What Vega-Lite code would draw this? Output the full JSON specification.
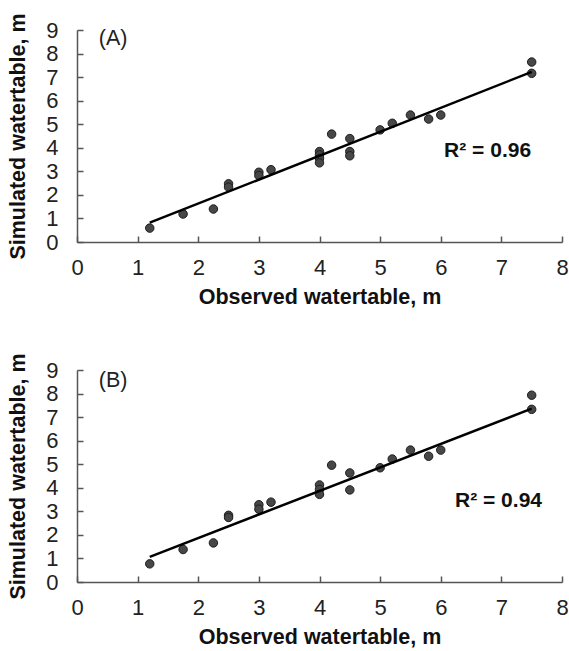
{
  "$schema": "https://vega.github.io/schema/vega-lite/v6.json",
  "background": "white",
  "padding": {"left": 7, "top": 12, "right": 0, "bottom": 0},
  "config": {
    "font": "Liberation Sans",
    "view": {"stroke": null},
    "axis": {
      "grid": false,
      "domainColor": "#555555",
      "domainWidth": 1.5,
      "tickColor": "#555555",
      "tickWidth": 1.5,
      "tickSize": -6,
      "tickCount": 20,
      "labelFont": "Liberation Sans",
      "labelFontSize": 22,
      "labelColor": "#222222",
      "labelFlush": false,
      "labelOverlap": false,
      "format": "d",
      "titleFont": "Liberation Sans",
      "titleFontSize": 21.5,
      "titleFontWeight": "bold",
      "titleColor": "#111111"
    },
    "axisX": {"labelPadding": 21, "titlePadding": 8},
    "axisY": {"labelPadding": 25, "titlePadding": 16},
    "concat": {"spacing": 44}
  },
  "datasets": {
    "pts": [
      {"panel": "A", "obs": 1.2, "sim": 0.59},
      {"panel": "A", "obs": 1.75, "sim": 1.19},
      {"panel": "A", "obs": 2.25, "sim": 1.4},
      {"panel": "A", "obs": 2.5, "sim": 2.47},
      {"panel": "A", "obs": 2.5, "sim": 2.33},
      {"panel": "A", "obs": 3.0, "sim": 2.96},
      {"panel": "A", "obs": 3.0, "sim": 2.82},
      {"panel": "A", "obs": 3.2, "sim": 3.07},
      {"panel": "A", "obs": 4.0, "sim": 3.84},
      {"panel": "A", "obs": 4.0, "sim": 3.7},
      {"panel": "A", "obs": 4.0, "sim": 3.55},
      {"panel": "A", "obs": 4.0, "sim": 3.36},
      {"panel": "A", "obs": 4.2, "sim": 4.58},
      {"panel": "A", "obs": 4.5, "sim": 4.39},
      {"panel": "A", "obs": 4.5, "sim": 3.84},
      {"panel": "A", "obs": 4.5, "sim": 3.66},
      {"panel": "A", "obs": 5.0, "sim": 4.76},
      {"panel": "A", "obs": 5.2, "sim": 5.04},
      {"panel": "A", "obs": 5.5, "sim": 5.39},
      {"panel": "A", "obs": 5.8, "sim": 5.22},
      {"panel": "A", "obs": 6.0, "sim": 5.39},
      {"panel": "A", "obs": 7.5, "sim": 7.64},
      {"panel": "A", "obs": 7.5, "sim": 7.16},
      {"panel": "B", "obs": 1.2, "sim": 0.77},
      {"panel": "B", "obs": 1.75, "sim": 1.38},
      {"panel": "B", "obs": 2.25, "sim": 1.66},
      {"panel": "B", "obs": 2.5, "sim": 2.83},
      {"panel": "B", "obs": 2.5, "sim": 2.74},
      {"panel": "B", "obs": 3.0, "sim": 3.28},
      {"panel": "B", "obs": 3.0, "sim": 3.09},
      {"panel": "B", "obs": 3.2, "sim": 3.39},
      {"panel": "B", "obs": 4.0, "sim": 4.12},
      {"panel": "B", "obs": 4.0, "sim": 3.93},
      {"panel": "B", "obs": 4.0, "sim": 3.72},
      {"panel": "B", "obs": 4.2, "sim": 4.96},
      {"panel": "B", "obs": 4.5, "sim": 4.63},
      {"panel": "B", "obs": 4.5, "sim": 3.91},
      {"panel": "B", "obs": 5.0, "sim": 4.85},
      {"panel": "B", "obs": 5.2, "sim": 5.22},
      {"panel": "B", "obs": 5.5, "sim": 5.6},
      {"panel": "B", "obs": 5.8, "sim": 5.34},
      {"panel": "B", "obs": 6.0, "sim": 5.6},
      {"panel": "B", "obs": 7.5, "sim": 7.93},
      {"panel": "B", "obs": 7.5, "sim": 7.33}
    ],
    "fit": [
      {"panel": "A", "obs": 1.2, "sim": 0.82},
      {"panel": "A", "obs": 7.5, "sim": 7.22},
      {"panel": "B", "obs": 1.2, "sim": 1.07},
      {"panel": "B", "obs": 7.5, "sim": 7.36}
    ],
    "tags": [
      {"panel": "A", "x": 0.36, "y": 8.6, "label": "(A)"},
      {"panel": "B", "x": 0.36, "y": 8.55, "label": "(B)"}
    ],
    "r2": [
      {"panel": "A", "x": 7.49, "y": 3.85, "label": "R² = 0.96"},
      {"panel": "B", "x": 7.67, "y": 3.42, "label": "R² = 0.94"}
    ]
  },
  "vconcat": [
    {
      "width": 485,
      "height": 212,
      "layer": [
        {
          "data": {"name": "pts"},
          "transform": [{"filter": "datum.panel == 'A'"}],
          "mark": {"type": "circle", "size": 72, "fill": "#474747", "stroke": "#1e1e1e", "strokeWidth": 1, "opacity": 1},
          "encoding": {
            "x": {"field": "obs", "type": "quantitative", "scale": {"domain": [0, 8], "nice": false}, "axis": {"values": [0, 1, 2, 3, 4, 5, 6, 7, 8], "tickCount": 20, "labelOverlap": false, "title": "Observed watertable, m"}},
            "y": {"field": "sim", "type": "quantitative", "scale": {"domain": [0, 9], "nice": false}, "axis": {"values": [0, 1, 2, 3, 4, 5, 6, 7, 8, 9], "tickCount": 20, "labelOverlap": false, "title": "Simulated watertable, m"}}
          }
        },
        {
          "data": {"name": "fit"},
          "transform": [{"filter": "datum.panel == 'A'"}],
          "mark": {"type": "line", "color": "#000000", "strokeWidth": 2.5},
          "encoding": {
            "x": {"field": "obs", "type": "quantitative"},
            "y": {"field": "sim", "type": "quantitative"}
          }
        },
        {
          "data": {"name": "tags"},
          "transform": [{"filter": "datum.panel == 'A'"}],
          "mark": {"type": "text", "align": "left", "baseline": "middle", "fontSize": 21.5, "color": "#222222", "font": "Liberation Sans"},
          "encoding": {
            "x": {"field": "x", "type": "quantitative"},
            "y": {"field": "y", "type": "quantitative"},
            "text": {"field": "label"}
          }
        },
        {
          "data": {"name": "r2"},
          "transform": [{"filter": "datum.panel == 'A'"}],
          "mark": {"type": "text", "align": "right", "baseline": "middle", "fontSize": 21, "fontWeight": "bold", "color": "#111111", "font": "Liberation Sans"},
          "encoding": {
            "x": {"field": "x", "type": "quantitative"},
            "y": {"field": "y", "type": "quantitative"},
            "text": {"field": "label"}
          }
        }
      ]
    },
    {
      "width": 485,
      "height": 212,
      "layer": [
        {
          "data": {"name": "pts"},
          "transform": [{"filter": "datum.panel == 'B'"}],
          "mark": {"type": "circle", "size": 72, "fill": "#474747", "stroke": "#1e1e1e", "strokeWidth": 1, "opacity": 1},
          "encoding": {
            "x": {"field": "obs", "type": "quantitative", "scale": {"domain": [0, 8], "nice": false}, "axis": {"values": [0, 1, 2, 3, 4, 5, 6, 7, 8], "tickCount": 20, "labelOverlap": false, "title": "Observed watertable, m"}},
            "y": {"field": "sim", "type": "quantitative", "scale": {"domain": [0, 9], "nice": false}, "axis": {"values": [0, 1, 2, 3, 4, 5, 6, 7, 8, 9], "tickCount": 20, "labelOverlap": false, "title": "Simulated watertable, m"}}
          }
        },
        {
          "data": {"name": "fit"},
          "transform": [{"filter": "datum.panel == 'B'"}],
          "mark": {"type": "line", "color": "#000000", "strokeWidth": 2.5},
          "encoding": {
            "x": {"field": "obs", "type": "quantitative"},
            "y": {"field": "sim", "type": "quantitative"}
          }
        },
        {
          "data": {"name": "tags"},
          "transform": [{"filter": "datum.panel == 'B'"}],
          "mark": {"type": "text", "align": "left", "baseline": "middle", "fontSize": 21.5, "color": "#222222", "font": "Liberation Sans"},
          "encoding": {
            "x": {"field": "x", "type": "quantitative"},
            "y": {"field": "y", "type": "quantitative"},
            "text": {"field": "label"}
          }
        },
        {
          "data": {"name": "r2"},
          "transform": [{"filter": "datum.panel == 'B'"}],
          "mark": {"type": "text", "align": "right", "baseline": "middle", "fontSize": 21, "fontWeight": "bold", "color": "#111111", "font": "Liberation Sans"},
          "encoding": {
            "x": {"field": "x", "type": "quantitative"},
            "y": {"field": "y", "type": "quantitative"},
            "text": {"field": "label"}
          }
        }
      ]
    }
  ]
}
